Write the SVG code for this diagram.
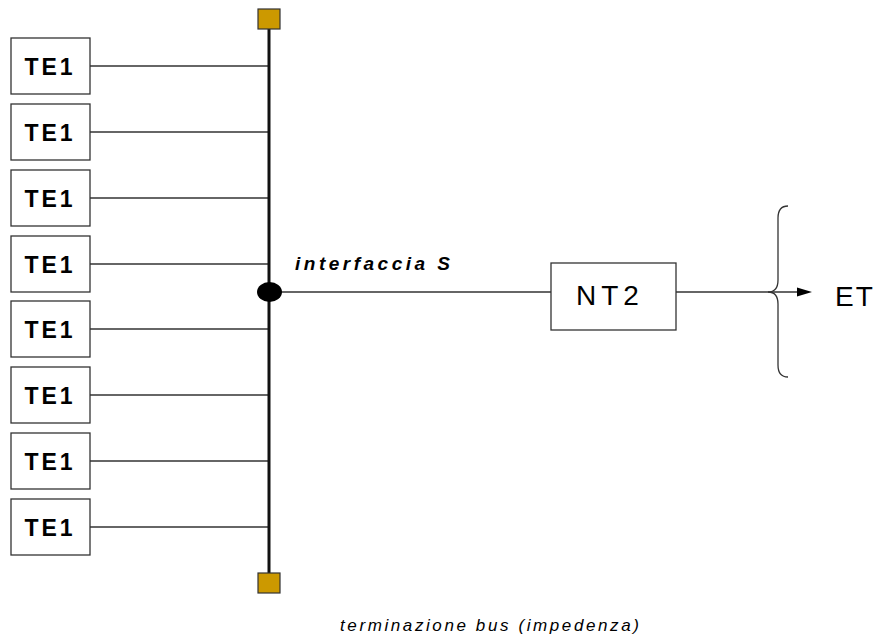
<svg xmlns="http://www.w3.org/2000/svg" width="876" height="637" viewBox="0 0 876 637">
<style>
.box{fill:#fff;stroke:#333;stroke-width:1.3}
.ln{stroke:#333;stroke-width:1.3;fill:none}
.te{font-family:"Liberation Sans",Arial,sans-serif;font-weight:bold;font-size:23px;letter-spacing:3px;fill:#000;text-anchor:middle}
.term{fill:#CC9900;stroke:#333;stroke-width:1.2}
</style>
<rect width="876" height="637" fill="#fff"/>
<g id="connectors">
<line class="ln" x1="90" y1="66" x2="269" y2="66"/>
<line class="ln" x1="90" y1="132" x2="269" y2="132"/>
<line class="ln" x1="90" y1="198" x2="269" y2="198"/>
<line class="ln" x1="90" y1="264" x2="269" y2="264"/>
<line class="ln" x1="90" y1="329" x2="269" y2="329"/>
<line class="ln" x1="90" y1="395" x2="269" y2="395"/>
<line class="ln" x1="90" y1="461" x2="269" y2="461"/>
<line class="ln" x1="90" y1="527" x2="269" y2="527"/>
<line x1="269" y1="29" x2="269" y2="573" stroke="#111" stroke-width="3"/>
<line class="ln" x1="269" y1="292" x2="551" y2="292"/>
<line class="ln" x1="676" y1="292" x2="799" y2="292"/>
<polygon points="797,287.5 812,292 797,296.5" fill="#000"/>
<path class="ln" d="M788,206 Q778,206 778,218 L778,280 Q778,292 768,292 Q778,292 778,304 L778,365 Q778,377 788,377"/>
</g>
<g id="term-top"><rect class="term" x="258" y="9" width="22" height="20"/></g>
<g id="term-bottom"><rect class="term" x="258" y="573" width="22" height="20"/></g>
<g id="junction"><ellipse cx="269.5" cy="292" rx="12.5" ry="10" fill="#000"/></g>
<g id="te1-1"><rect class="box" x="11" y="38" width="79" height="56"/><text class="te" x="50" y="75">TE1</text></g>
<g id="te1-2"><rect class="box" x="11" y="104" width="79" height="56"/><text class="te" x="50" y="141">TE1</text></g>
<g id="te1-3"><rect class="box" x="11" y="170" width="79" height="56"/><text class="te" x="50" y="207">TE1</text></g>
<g id="te1-4"><rect class="box" x="11" y="236" width="79" height="56"/><text class="te" x="50" y="273">TE1</text></g>
<g id="te1-5"><rect class="box" x="11" y="301" width="79" height="56"/><text class="te" x="50" y="338">TE1</text></g>
<g id="te1-6"><rect class="box" x="11" y="367" width="79" height="56"/><text class="te" x="50" y="404">TE1</text></g>
<g id="te1-7"><rect class="box" x="11" y="433" width="79" height="56"/><text class="te" x="50" y="470">TE1</text></g>
<g id="te1-8"><rect class="box" x="11" y="499" width="79" height="56"/><text class="te" x="50" y="536">TE1</text></g>
<g id="nt2"><rect class="box" x="551" y="263" width="125" height="67"/><text x="576" y="305" font-family="Liberation Sans,Arial,sans-serif" font-size="28" letter-spacing="5" fill="#000">NT2</text></g>
<g id="et"><text x="835" y="306" font-family="Liberation Sans,Arial,sans-serif" font-size="28" letter-spacing="2" fill="#000">ET</text></g>
<text x="295" y="270" font-family="Liberation Sans,Arial,sans-serif" font-size="19" font-style="italic" font-weight="bold" letter-spacing="3.5" fill="#000">interfaccia S</text>
<text x="340" y="631" font-family="Liberation Sans,Arial,sans-serif" font-size="17" font-style="italic" letter-spacing="2.6" fill="#000">terminazione bus (impedenza)</text>
</svg>
